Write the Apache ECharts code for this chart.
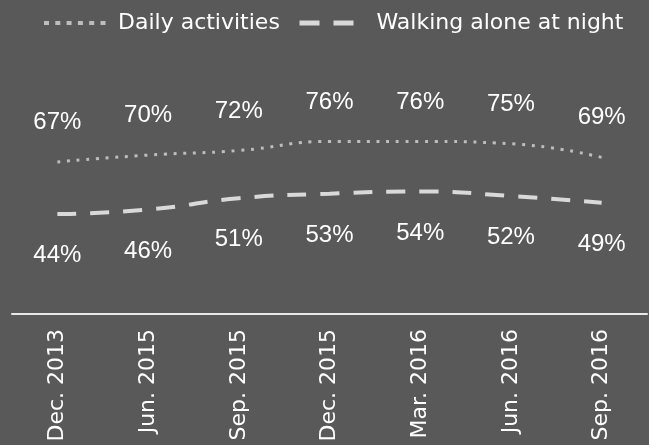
<!DOCTYPE html>
<html>
<head>
<meta charset="utf-8">
<script src="https://cdn.jsdelivr.net/npm/echarts@6/dist/echarts.min.js"></script>
<style>
  html, body { margin: 0; padding: 0; background: #595959; }
  #chart { width: 649px; height: 445px; }
</style>
</head>
<body>
<div id="chart"></div>
<script>
// Survey periods along the x axis
const categories = ['Dec. 2013', 'Jun. 2015', 'Sep. 2015', 'Dec. 2015', 'Mar. 2016', 'Jun. 2016', 'Sep. 2016'];
// Share of respondents feeling safe (%)
const dailyActivities = [67, 70, 72, 76, 76, 75, 69];
const walkingAtNight = [44, 46, 51, 53, 54, 52, 49];

const seriesNames = ['Daily activities', 'Walking alone at night'];

const chart = echarts.init(document.getElementById('chart'), null, { renderer: 'canvas' });

const textColor = '#ffffff';
const legendFont = 'DejaVu Sans';
const valueFont = 'Liberation Sans';

// Invisible point markers: they only carry the value labels
const hiddenMarker = { color: 'rgba(0,0,0,0)', borderWidth: 0 };

chart.setOption({
  backgroundColor: '#595959',
  animation: false,
  legend: [
    {
      data: [seriesNames[0]],
      left: 42,
      top: 12,
      padding: 0,
      itemWidth: 62,
      itemHeight: 14,
      itemStyle: { opacity: 0 },
      lineStyle: { type: [5, 6.3], width: 4, color: '#bdbdbd' },
      textStyle: { color: textColor, fontFamily: legendFont, fontSize: 22, padding: [0, 0, 0, 7] }
    },
    {
      data: [seriesNames[1]],
      left: 297,
      top: 12,
      padding: 0,
      itemWidth: 54,
      itemHeight: 14,
      itemStyle: { opacity: 0 },
      lineStyle: { type: [20, 14], width: 5, color: '#d9d9d9' },
      textStyle: { color: textColor, fontFamily: legendFont, fontSize: 22, padding: [0, 0, 0, 18] }
    }
  ],
  grid: { left: 12, right: 2, top: 87, height: 227 },
  xAxis: {
    type: 'category',
    data: categories,
    boundaryGap: true,
    axisLine: { show: true, lineStyle: { color: '#e8e8e8', width: 2 } },
    axisTick: { show: false },
    axisLabel: {
      rotate: 90,
      margin: 15,
      color: textColor,
      fontFamily: legendFont,
      fontSize: 22,
      interval: 0
    },
    splitLine: { show: false }
  },
  yAxis: {
    type: 'value',
    min: 0,
    max: 100,
    show: false,
    splitLine: { show: false }
  },
  series: [
    {
      name: seriesNames[0],
      type: 'line',
      data: dailyActivities,
      smooth: true,
      symbol: 'circle',
      symbolSize: 1,
      showSymbol: true,
      itemStyle: hiddenMarker,
      lineStyle: { color: '#bdbdbd', width: 3, type: [3, 6.7] },
      label: {
        show: true,
        position: 'top',
        distance: 27,
        formatter: '{c}%',
        color: textColor,
        fontFamily: valueFont,
        fontSize: 24
      }
    },
    {
      name: seriesNames[1],
      type: 'line',
      data: walkingAtNight,
      smooth: true,
      symbol: 'circle',
      symbolSize: 1,
      showSymbol: true,
      itemStyle: hiddenMarker,
      lineStyle: { color: '#d9d9d9', width: 4, type: [19, 14] },
      label: {
        show: true,
        position: 'bottom',
        distance: 29,
        formatter: '{c}%',
        color: textColor,
        fontFamily: valueFont,
        fontSize: 24
      }
    }
  ]
});
</script>
</body>
</html>
